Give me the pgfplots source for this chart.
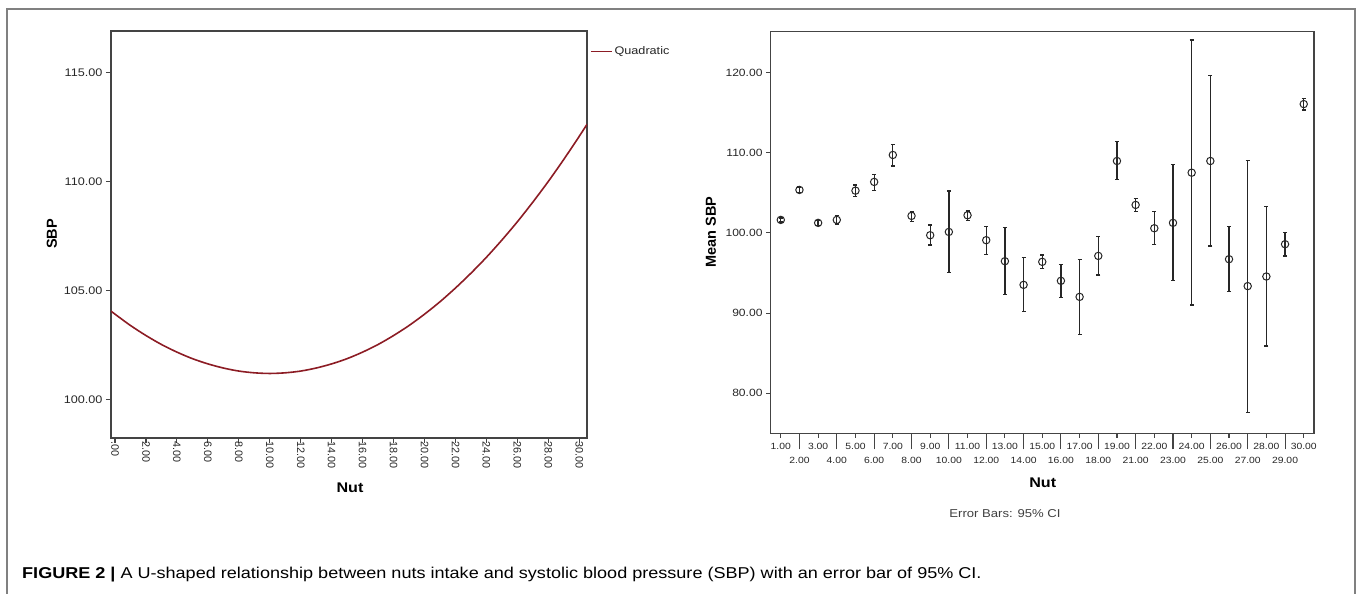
\documentclass[border=0pt]{standalone}
\usepackage{fontspec}
\setmainfont{Liberation Sans}[FakeStretch=1.15]
\newfontfamily\rotfont{Liberation Sans}
\usepackage{pgfplots}
\pgfplotsset{compat=1.18}
\usepackage{pgfplotstable}
\definecolor{axgray}{HTML}{444444}
\definecolor{fitred}{RGB}{140,28,36}
\definecolor{framegray}{HTML}{808080}

\pgfplotstableread{
x y
-0.26 104.06
0 103.92
1 103.40
2 102.94
3 102.53
4 102.18
5 101.88
6 101.64
7 101.45
8 101.31
9 101.23
10 101.20
11 101.23
12 101.31
13 101.45
14 101.64
15 101.88
16 102.18
17 102.53
18 102.94
19 103.40
20 103.92
21 104.49
22 105.12
23 105.80
24 106.53
25 107.32
26 108.16
27 109.06
28 110.01
29 111.02
30 112.08
30.5 112.63
}\fitdata

\pgfplotstableread{
x y ep em
0 101.62 0.25 0.25
1 105.36 0.35 0.35
2 101.25 0.30 0.30
3 101.62 0.58 0.52
4 105.27 0.71 0.70
5 106.36 0.95 1.04
6 109.72 1.33 1.37
7 102.12 0.50 0.71
8 99.71 1.29 1.21
9 100.12 5.11 5.10
10 102.20 0.54 0.62
11 99.09 1.74 1.79
12 96.47 4.19 4.16
13 93.52 3.40 3.33
14 96.39 0.87 0.79
15 94.02 2.08 2.12
16 92.02 4.66 4.69
17 97.13 2.41 2.40
18 108.97 2.41 2.32
19 103.49 0.83 0.83
20 100.58 2.08 1.99
21 101.25 7.26 7.19
22 107.51 16.54 16.52
23 108.97 10.63 10.59
24 96.72 4.07 4.03
25 93.36 15.70 15.75
26 94.56 8.76 8.66
27 98.59 1.45 1.46
28 116.07 0.71 0.74
}\cidata

\begin{document}
\begin{tikzpicture}
\useasboundingbox (0pt,0pt) rectangle (1358pt,594pt);
\draw[framegray, line width=1.2pt] (7pt,-10pt) -- (7pt,585pt) -- (1355pt,585pt) -- (1355pt,-10pt);

% Left panel
\begin{axis}[
  at={(111pt,156pt)}, anchor=south west, scale only axis,
  width=476pt, height=407pt,
  xmin=-0.26, xmax=30.5, ymin=98.24, ymax=116.91,
  xtick={0,2,...,30},
  xticklabels={.00,2.00,4.00,6.00,8.00,10.00,12.00,14.00,16.00,18.00,20.00,22.00,24.00,26.00,28.00,30.00},
  ytick={100,105,110,115},
  yticklabels={100.00,105.00,110.00,115.00},
  tick align=outside, xtick pos=bottom, ytick pos=left,
  major tick length=5pt,
  axis line style={axgray, line width=1.1pt},
  tick style={axgray, line width=1.1pt},
  xticklabel style={font=\rotfont\fontsize{10.8}{12}\selectfont, yshift=5pt, rotate=-90, anchor=west, text=black!85},
  yticklabel style={font=\fontsize{11}{12}\selectfont, text=black!85},
  legend style={at={(1.006,0.949)}, anchor=west, draw=none, fill=none, inner sep=0pt,
    font=\fontsize{11}{12}\selectfont, text=black!85},
  legend image code/.code={\draw[fitred, line width=1.5pt] (0pt,0pt) -- (21pt,0pt);},
  /pgf/number format/assume math mode=true,
]
\addplot[fitred, line width=1.6pt, smooth] table[x=x, y=y] {\fitdata};
\addlegendentry{Quadratic}
\end{axis}

% Right panel
\begin{axis}[
  at={(770.5pt,160.7pt)}, anchor=south west, scale only axis,
  width=543.5pt, height=401.6pt,
  xmin=-0.55, xmax=28.55, ymin=75, ymax=125.1,
  xtick={0,2,...,28},
  xticklabels={1.00,3.00,5.00,7.00,9.00,11.00,13.00,15.00,17.00,19.00,22.00,24.00,26.00,28.00,30.00},
  extra x ticks={1,3,...,27},
  extra x tick labels={2.00,4.00,6.00,8.00,10.00,12.00,14.00,16.00,18.00,21.00,23.00,25.00,27.00,29.00},
  extra x tick style={major tick length=16pt,
    xticklabel style={yshift=-2.5pt}},
  ytick={80,90,100,110,120},
  yticklabels={80.00,90.00,100.00,110.00,120.00},
  tick align=outside, xtick pos=bottom, ytick pos=left,
  major tick length=4.5pt,
  axis line style={axgray, line width=1.1pt},
  tick style={axgray, line width=1.1pt},
  xticklabel style={font=\fontsize{9}{10}\selectfont, text=black!85, anchor=center, yshift=-8.2pt},
  yticklabel style={font=\fontsize{10.5}{12}\selectfont, text=black!85},
  /pgf/number format/assume math mode=true,
]
\addplot[only marks, mark=o, black!85, mark options={line width=1pt, mark size=3.7pt},
  error bars/.cd, y dir=both, y explicit,
  error bar style={line width=1.3pt, black!85},
  error mark options={rotate=90, mark size=2pt, line width=1.3pt, black!85}]
  table[x=x, y=y, y error plus=ep, y error minus=em] {\cidata};
\end{axis}

\node[rotate=90, font=\rotfont\bfseries\fontsize{14.5}{16}\selectfont] at (52pt,360pt) {SBP};
\node[font=\bfseries\fontsize{14}{16}\selectfont] at (350pt,106pt) {Nut};
\node[rotate=90, font=\rotfont\bfseries\fontsize{14.5}{16}\selectfont] at (711pt,362pt) {Mean SBP};
\node[font=\bfseries\fontsize{14}{16}\selectfont] at (1042.7pt,111pt) {Nut};
\node[font=\fontsize{11.4}{13}\selectfont, text=black!75] at (1005pt,80pt) {Error Bars: 95\% CI};
\node[anchor=west, inner sep=0pt, font=\fontsize{15.7}{18}\selectfont] at (22pt,19pt)
  {\textbf{FIGURE 2 |} A U-shaped relationship between nuts intake and systolic blood pressure (SBP) with an error bar of 95\% CI.};
\end{tikzpicture}
\end{document}
